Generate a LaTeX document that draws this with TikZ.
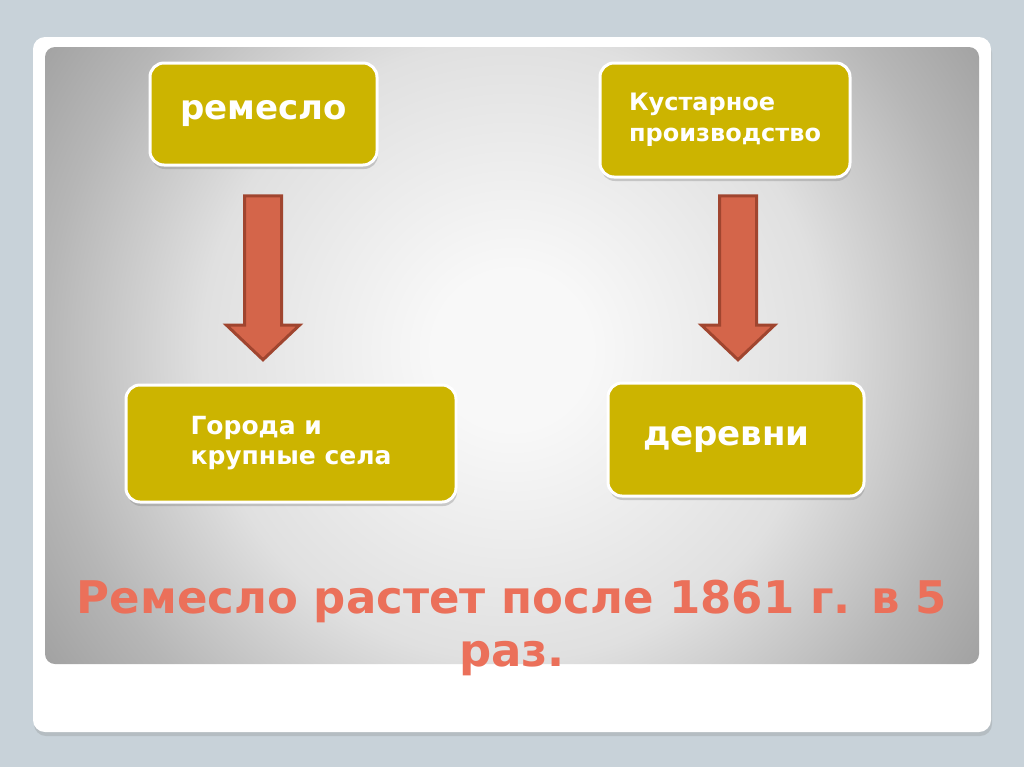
\documentclass[tikz,border=0pt]{standalone}
\usepackage{fontspec}
\setmainfont{DejaVu Sans}
\usetikzlibrary{shapes.arrows,shadows}
\definecolor{slidebg}{HTML}{C8D2D9}
\definecolor{olive}{HTML}{CCB400}
\definecolor{brick}{HTML}{D4654A}
\definecolor{brickdark}{HTML}{A0452F}
\definecolor{salmon}{HTML}{EB705A}
\definecolor{panelin}{HTML}{F8F8F8}
\definecolor{panelmid}{HTML}{E0E0E0}
\definecolor{paneledge}{HTML}{B6B6B6}
\definecolor{panelout}{HTML}{A2A2A2}
\pgfdeclareradialshading{panelshade}{\pgfpoint{0bp}{0bp}}{color(0bp)=(panelin); color(3.5bp)=(panelin); color(13.8bp)=(panelmid); color(20.8bp)=(paneledge); color(25bp)=(panelout); color(50bp)=(panelout)}
\tikzset{
  box/.style={rounded corners=7pt,fill=olive,draw=white,line width=1.5pt,
    text=white,align=left,inner sep=0pt,
    drop shadow={shadow xshift=0.5pt,shadow yshift=-2pt,opacity=0.35}},
  downarrow/.style={single arrow,draw=brickdark,fill=brick,line width=1.5pt,
    rotate=-90,inner xsep=0pt,inner ysep=8.5pt,minimum height=82pt,minimum width=35pt,
    single arrow head extend=9pt,single arrow tip angle=93}
}

\begin{document}
\begin{tikzpicture}[x=0.5pt,y=-0.5pt]
  \useasboundingbox (0,0) rectangle (1024,767);
  % slide
  \fill[slidebg] (0,0) rectangle (1024,767);
  \fill[white,rounded corners=6pt,drop shadow={shadow xshift=0.5pt,shadow yshift=-2pt,opacity=0.25}]
    (33,37) rectangle (991,732);
  \begin{scope}
    \clip[rounded corners=5pt] (45,47) rectangle (979,664);
    \shade[shading=panelshade] (-49,-211) rectangle (1073,911);
  \end{scope}

  \node[box,minimum width=113.5pt,minimum height=51pt,
        font=\bfseries\fontsize{17}{20}\selectfont] (remeslo) at (263.5,114) {ремесло};
  \node[box,minimum width=125pt,minimum height=57pt,
        font=\bfseries\fontsize{12}{15.5}\selectfont] (kustar) at (725,120) {Кустарное\\производство};
  \node[box,minimum width=165pt,minimum height=58.5pt,
        font=\bfseries\fontsize{12.5}{15}\selectfont] (goroda) at (291,443.5) {Города и\\крупные села};
  \node[box,minimum width=128pt,minimum height=56.5pt,text width=93pt,
        font=\bfseries\fontsize{17}{20}\selectfont] (derevni) at (736,439.5) {деревни};

  \node[downarrow] (arrL) at (263,269) {};
  \node[downarrow] (arrR) at (738,269) {};

  \node[text=salmon,align=center,font=\bfseries\fontsize{22.5}{26.5}\selectfont]
    (title) at (512,628) {Ремесло растет после 1861 г. в 5\\раз.};
\end{tikzpicture}
\end{document}
